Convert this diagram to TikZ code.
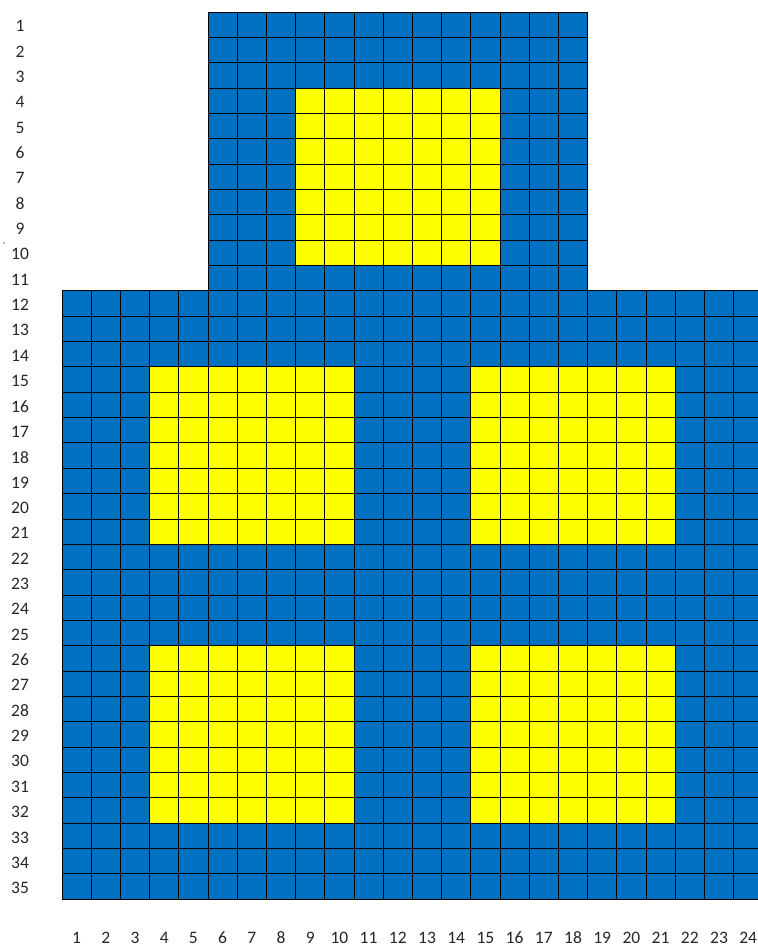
\documentclass[tikz,border=0pt]{standalone}
\usepackage{fontspec}
\setmainfont{Carlito}
\definecolor{cellblue}{HTML}{0070C0}
\definecolor{cellyellow}{HTML}{FFFF00}
\begin{document}
\begin{tikzpicture}[x=1pt,y=-1pt,
  gridline/.style={black, line width=1.0pt},
  blockblue/.style={fill=cellblue},
  blockyellow/.style={fill=cellyellow},
  lbl/.style={font=\fontsize{17.5}{18}\selectfont, text=black!85, inner sep=0pt}]
\useasboundingbox (0,0) rectangle (758,946);
\clip (0,0) rectangle (758,946);
\def\W{29.2}\def\H{25.35}\def\X{62}\def\Y{12}
% blue areas
\path[blockblue] ({\X+5*\W},\Y) rectangle ({\X+18*\W},{\Y+11*\H});
\path[blockblue] (\X,{\Y+11*\H}) rectangle ({\X+24*\W},{\Y+35*\H});
% yellow areas
\path[blockyellow] ({\X+8*\W},{\Y+3*\H}) rectangle ({\X+15*\W},{\Y+10*\H});
\path[blockyellow] ({\X+3*\W},{\Y+14*\H}) rectangle ({\X+10*\W},{\Y+21*\H});
\path[blockyellow] ({\X+14*\W},{\Y+14*\H}) rectangle ({\X+21*\W},{\Y+21*\H});
\path[blockyellow] ({\X+3*\W},{\Y+25*\H}) rectangle ({\X+10*\W},{\Y+32*\H});
\path[blockyellow] ({\X+14*\W},{\Y+25*\H}) rectangle ({\X+21*\W},{\Y+32*\H});
% grid lines, top section
\foreach \k in {5,...,18} \draw[gridline] ({\X+\k*\W},\Y) -- ({\X+\k*\W},{\Y+11*\H});
\foreach \j in {0,...,11} \draw[gridline] ({\X+5*\W},{\Y+\j*\H}) -- ({\X+18*\W},{\Y+\j*\H});
% grid lines, bottom section
\foreach \k in {0,...,24} \draw[gridline] ({\X+\k*\W},{\Y+11*\H}) -- ({\X+\k*\W},{\Y+35*\H});
\foreach \j in {11,...,35} \draw[gridline] (\X,{\Y+\j*\H}) -- ({\X+24*\W},{\Y+\j*\H});
% row labels
\foreach \r in {1,...,35} \node[lbl] (row\r) at (20,{\Y+(\r-0.5)*\H+1.5}) {\r};
% column labels
\foreach \c in {1,...,24} \node[lbl] (col\c) at ({\X+(\c-0.5)*\W},937.5) {\c};
% stray dot
\fill[black!60] (4,243) circle (0.8);
\end{tikzpicture}
\end{document}
